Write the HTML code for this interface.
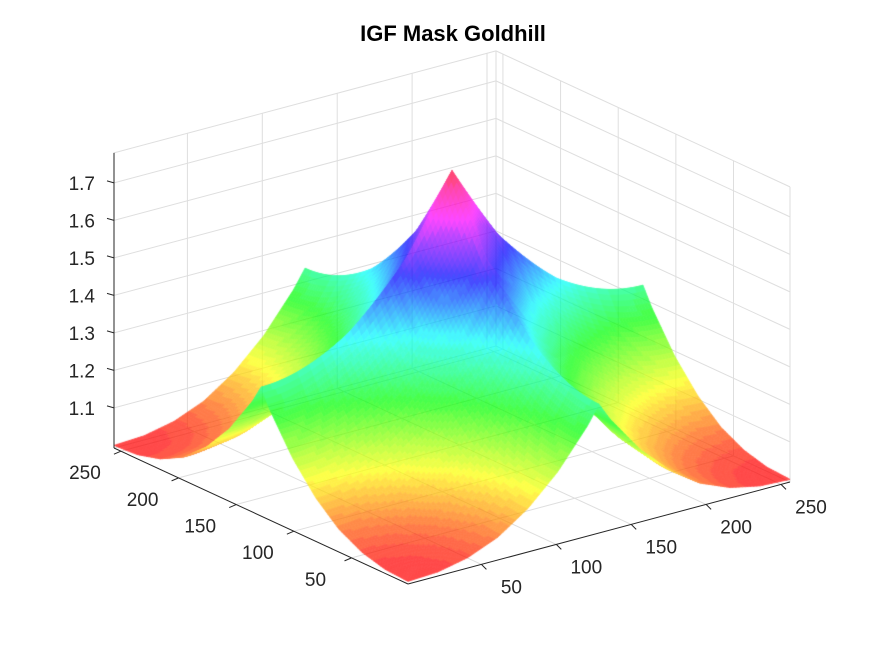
<!DOCTYPE html>
<html><head><meta charset="utf-8"><style>
html,body{margin:0;padding:0;background:#fff;width:875px;height:656px;overflow:hidden}
#wrap{position:relative;width:875px;height:656px}
svg,canvas{position:absolute;left:0;top:0}
text{font-family:"Liberation Sans",Arial,sans-serif;fill:#262626}
</style></head><body>
<div id="wrap">
<svg id="grid" width="875" height="656"></svg>
<canvas id="surf" width="875" height="656"></canvas>
<svg id="axes" width="875" height="656">
<text x="453" y="41" text-anchor="middle" font-size="22" font-weight="bold" style="fill:#000">IGF Mask Goldhill</text>
</svg>
</div>
<script>
const xTicks=[50,100,150,200,250];
const yTicks=[50,100,150,200,250];
const zTicks=[1.1,1.2,1.3,1.4,1.5,1.6,1.7];
// surface height as function of distance to nearest image corner
const profileDist=[0,20,40,60,80,100,120,140,160,181];
const profileZ=[1.0,1.004,1.021,1.054,1.109,1.186,1.288,1.417,1.574,1.785];
const xRange=[1,256], yRange=[1,256], zRange=[0.993,1.78];
const O=[408,584], EX=[382,-102], EY=[-294,-136], EZ=375;
function P(x,y,z){
  const u=(x-xRange[0])/(xRange[1]-xRange[0]), v=(y-yRange[0])/(yRange[1]-yRange[0]);
  return [O[0]+u*EX[0]+v*EY[0], O[1]+u*EX[1]+v*EY[1]-(z-zRange[0])*EZ];
}
function prof(d){
  for(let i=1;i<profileDist.length;i++){ if(d<=profileDist[i]){const t=(d-profileDist[i-1])/(profileDist[i]-profileDist[i-1]);return profileZ[i-1]+t*(profileZ[i]-profileZ[i-1]);} }
  return profileZ[profileZ.length-1];
}
function surfZ(x,y){
  const dx=Math.min(x-1,256-x), dy=Math.min(y-1,256-y);
  return prof(Math.hypot(dx,dy));
}
const NS="http://www.w3.org/2000/svg";
function line(svg,a,b,col,w,name){
  const l=document.createElementNS(NS,'line');
  l.setAttribute('x1',a[0]);l.setAttribute('y1',a[1]);l.setAttribute('x2',b[0]);l.setAttribute('y2',b[1]);
  l.setAttribute('stroke',col);l.setAttribute('stroke-width',w);
  
  
  svg.appendChild(l);
}
function txt(svg,p,s,anchor,name){
  const t=document.createElementNS(NS,'text');
  t.setAttribute('x',p[0]);t.setAttribute('y',p[1]);t.setAttribute('font-size','19');t.setAttribute('text-anchor',anchor);
  t.textContent=s;
  
  
  svg.appendChild(t);
}
const G=document.getElementById('grid'), A=document.getElementById('axes');
const gc='#dedede', z0=zRange[0], z1=zRange[1];
xTicks.forEach(v=>line(G,P(v,1,z0),P(v,256,z0),gc,1,'floor-grid-x'));
yTicks.forEach(v=>line(G,P(1,v,z0),P(256,v,z0),gc,1,'floor-grid-y'));
xTicks.forEach(v=>line(G,P(v,256,z0),P(v,256,z1),gc,1,'wall-grid-x'));
zTicks.forEach(v=>line(G,P(1,256,v),P(256,256,v),gc,1,'wall-grid-z'));
yTicks.forEach(v=>line(G,P(256,v,z0),P(256,v,z1),gc,1,'wall-grid-y'));
zTicks.forEach(v=>line(G,P(256,1,v),P(256,256,v),gc,1,'wall-grid-z'));
line(G,P(256,256,z0),P(256,256,z1),gc,1,'box-edge');
line(G,P(1,256,z1),P(256,256,z1),gc,1,'box-edge');
line(G,P(256,1,z1),P(256,256,z1),gc,1,'box-edge');
line(G,P(256,1,z0),P(256,1,z1),gc,1,'box-edge');
line(G,P(1,256,z0),P(256,256,z0),gc,1,'box-edge');
line(G,P(256,1,z0),P(256,256,z0),gc,1,'box-edge');

function hsv(h){
  h=(h%1)*6; const i=Math.floor(h), f=h-i; const q=1-f, t=f;
  const c=[[1,t,0],[q,1,0],[0,1,t],[0,q,1],[t,0,1],[1,0,q]][i%6];
  return 'rgb('+c.map(v=>Math.round(v*255)).join(',')+')';
}
const off=document.createElement('canvas'); off.width=875; off.height=656;
const oc=off.getContext('2d');
const N=128, step=255/N, quads=[];
const zmin=profileZ[0], zmax=profileZ[profileZ.length-1];
for(let i=0;i<N;i++)for(let j=0;j<N;j++){
  const xa=1+i*step, xb=xa+step, ya=1+j*step, yb=ya+step;
  const za=surfZ(xa,ya), zb=surfZ(xb,ya), zc=surfZ(xb,yb), zd=surfZ(xa,yb);
  const zm=surfZ((xa+xb)/2,(ya+yb)/2);
  const depth=(xa+xb)/2*102+(ya+yb)/2*136;
  quads.push({p:[P(xa,ya,za),P(xb,ya,zb),P(xb,yb,zc),P(xa,yb,zd)],zm,depth});
}
quads.sort((a,b)=>b.depth-a.depth);
quads.forEach(q=>{
  let t=(q.zm-zmin)/(zmax-zmin); t=Math.floor(t*64)/64*0.985;
  const col=hsv(t);
  oc.fillStyle=col; oc.strokeStyle=col; oc.lineWidth=0.8;
  oc.beginPath(); oc.moveTo(q.p[0][0],q.p[0][1]);
  for(let k=1;k<4;k++) oc.lineTo(q.p[k][0],q.p[k][1]);
  oc.closePath(); oc.fill(); oc.stroke();
});
const ctx=document.getElementById('surf').getContext('2d');
ctx.globalAlpha=0.72; ctx.drawImage(off,0,0);

const ak='#262626';
line(A,P(1,256,z0),P(1,256,z1),ak,1,'z-axis-line');
line(A,P(1,1,z0),P(256,1,z0),ak,1,'x-axis-line');
line(A,P(1,1,z0),P(1,256,z0),ak,1,'y-axis-line');
zTicks.forEach(v=>{const p=P(1,256,v);line(A,[p[0]-7,p[1]-2],p,ak,1,'z-tick');txt(A,[p[0]-19,p[1]+7],v.toFixed(1),'end','z-tick-label');});
xTicks.forEach(v=>{const p=P(v,1,z0);line(A,p,[p[0]+5,p[1]+5],ak,1,'x-tick');txt(A,[p[0]+30,p[1]+29],String(v),'middle','x-tick-label');});
yTicks.forEach(v=>{const p=P(1,v,z0);line(A,p,[p[0]-7,p[1]+3],ak,1,'y-tick');txt(A,[p[0]-36,p[1]+28],String(v),'middle','y-tick-label');});
</script>
</body></html>
